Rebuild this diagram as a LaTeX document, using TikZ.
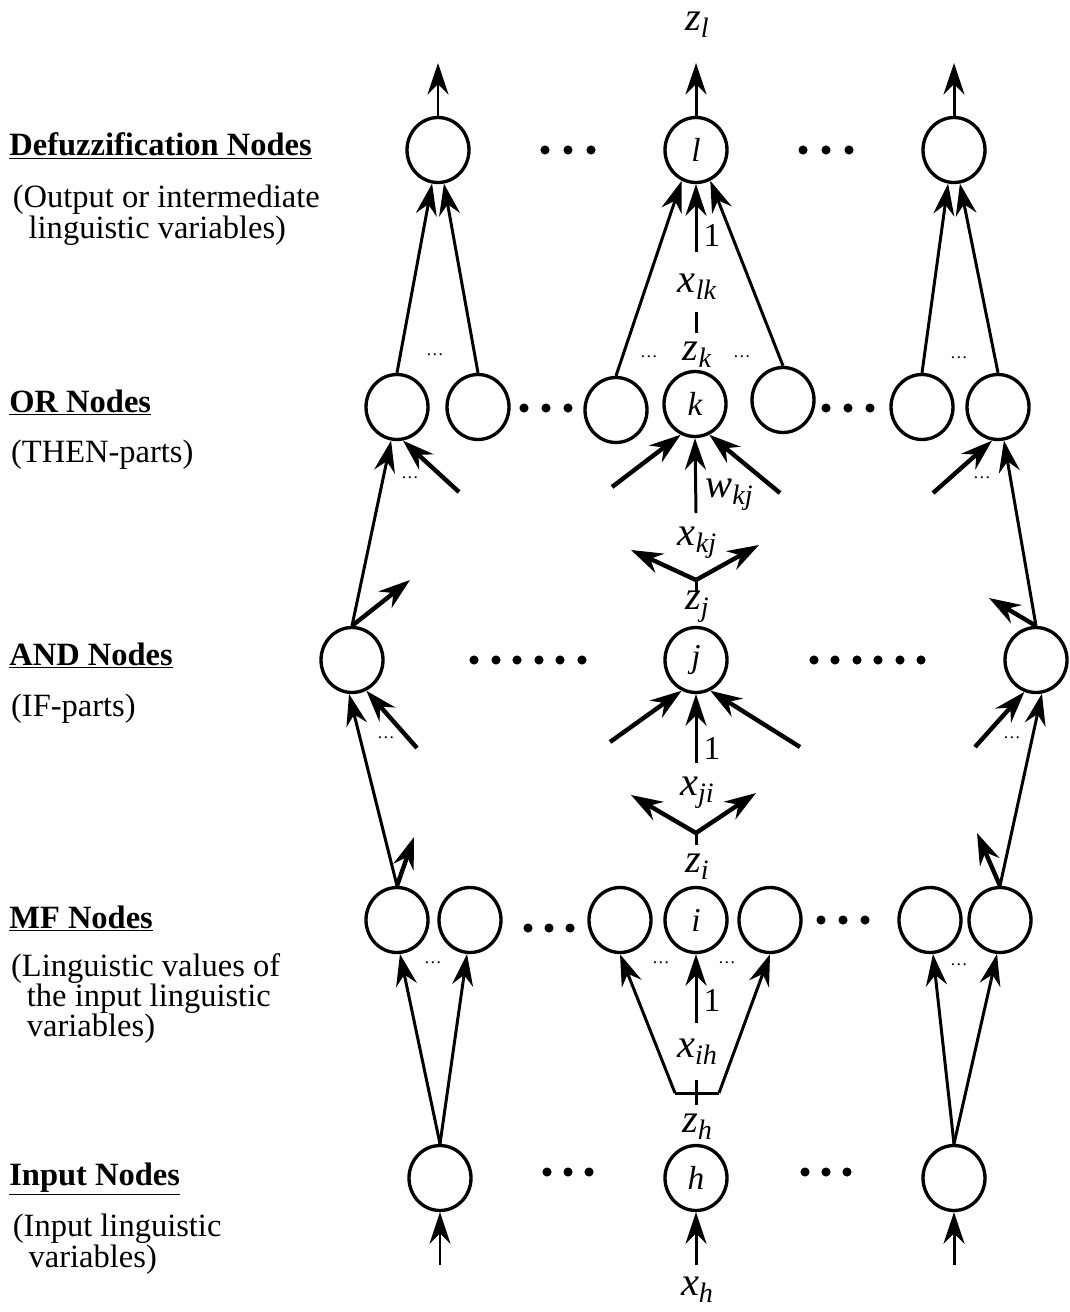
\documentclass[tikz,border=0pt]{standalone}
\usepackage{fontspec}
\setmainfont{Liberation Serif}
\usetikzlibrary{arrows.meta}
\usetikzlibrary{positioning}
\usetikzlibrary{shapes.geometric}

% A signal name with its (large, lowered) subscript
\newcommand{\sig}[2]{{\fontsize{23}{23}\selectfont\itshape #1}%
    \raisebox{-4pt}{\fontsize{16}{16}\selectfont\itshape #2}}

\tikzset{
    % Long, narrow filled heads
    >={Stealth[length=18pt,width=12pt,inset=6pt]},
%
    % One unit of the network
    unit/.style={
        draw, ellipse, line width=1.9pt, inner sep=0,
        minimum width=1.24cm, minimum height=1.3cm,
        font=\fontsize{19}{19}\selectfont\itshape},
%
    % Ordinary and heavier connections
    link/.style={->, line width=1.7pt},
    heavy link/.style={->, line width=2.5pt},
    stroke/.style={line width=1.7pt},
    % Small dots between two connections
    few/.style={inner sep=0, font=\fontsize{10}{10}\selectfont},
    % Signal names along the middle column
    signal/.style={inner sep=0},
    weight/.style={inner sep=0, font=\fontsize{19}{19}\selectfont},
    % Layer captions on the left
    layer/.style={inner sep=0, anchor=base west,
        font=\fontsize{18.5}{18.5}\selectfont\bfseries},
    layer note/.style={inner sep=0, align=left, anchor=north west,
        font={\fontsize{18.5}{17.2}\selectfont\lineskiplimit=-10pt}}}

\begin{document}
\begin{tikzpicture}[x=0.02cm, y=-0.02cm]
\useasboundingbox (0,0) rectangle (1069,1312);

% Captions of the five layers
\node[layer] (defuzz) at (9,155) {\underline{Defuzzification Nodes}};
\node[layer note, below=0.6cm of defuzz.base west, anchor=north west, xshift=2pt]
    (defuzz note) {(Output or intermediate\\\hspace*{9pt}linguistic variables)};

\node[layer] (or) at (9,412) {\underline{OR Nodes}};
\node[layer note, below=0.56cm of or.base west, anchor=north west, xshift=1pt]
    (or note) {(THEN-parts)};

\node[layer] (and) at (9,665) {\underline{AND Nodes}};
\node[layer note, below=0.58cm of and.base west, anchor=north west, xshift=1pt]
    (and note) {(IF-parts)};

\node[layer] (mf) at (9,928) {\underline{MF Nodes}};
\node[layer note, below=0.5cm of mf.base west, anchor=north west, xshift=1pt]
    (mf note) {(Linguistic values of\\\hspace*{9pt}the input linguistic\\\hspace*{9pt}variables)};

\node[layer] (input) at (9,1185) {\underline{Input Nodes}};
\node[layer note, below=0.58cm of input.base west, anchor=north west, xshift=2pt]
    (input note) {(Input linguistic\\\hspace*{9pt}variables)};

% Defuzzification layer
\node[unit] (d1) at (438,150) {};
\node[unit] (l) at (696,150) {l};
\node[unit] (d3) at (954,150) {};

% OR layer
\node[unit] (o1) at (397,407) {};
\node[unit] (o2) at (478,407) {};
\node[unit] (o3) at (616,410) {};
\node[unit] (k) at (695,404) {k};
\node[unit] (o5) at (783,400) {};
\node[unit] (o6) at (922,407) {};
\node[unit] (o7) at (998,407) {};

% AND layer
\node[unit] (a1) at (352,660) {};
\node[unit] (j) at (696,660) {j};
\node[unit] (a3) at (1036,660) {};

% MF layer
\node[unit] (m1) at (397,920) {};
\node[unit] (m2) at (470,920) {};
\node[unit] (m3) at (620,920) {};
\node[unit] (i) at (696,920) {i};
\node[unit] (m5) at (770,920) {};
\node[unit] (m6) at (930,920) {};
\node[unit] (m7) at (1000,920) {};

% Input layer
\node[unit] (n1) at (440,1178) {};
\node[unit] (h) at (696,1178) {h};
\node[unit] (n3) at (954,1178) {};

% Rows of dots for the units left out
\foreach \x in {545,568,591,803,826,849}
    \fill (\x,150) circle (2.6pt);
\foreach \x in {524,546,568,826,848,870}
    \fill (\x,408) circle (2.6pt);
\foreach \x in {474,496,517,539,560,582,814,835,857,878,900,921}
    \fill (\x,660) circle (2.6pt);
\foreach \x in {528,549,570}
    \fill (\x,928) circle (2.6pt);
\foreach \x in {821,843,865}
    \fill (\x,920) circle (2.6pt);
\foreach \x in {547,568,589,805,826,847}
    \fill (\x,1172) circle (2.6pt);

% Small dots between connections
\node[few] (few d1) at (435,355) {\dots};
\node[few] (few l1) at (649,357) {\dots};
\node[few] (few l2) at (742,357) {\dots};
\node[few] (few d3) at (959,358) {\dots};
\node[few] (few o1) at (410,478) {\dots};
\node[few] (few o7) at (982,478) {\dots};
\node[few] (few a1) at (386,738) {\dots};
\node[few] (few a3) at (1012,738) {\dots};
\node[few] (few m1) at (433,963) {\dots};
\node[few] (few i1) at (661,963) {\dots};
\node[few] (few i2) at (727,963) {\dots};
\node[few] (few m7) at (959,965) {\dots};

% Signal names along the middle column
\node[signal] (zl) at (697,25) {\sig{z}{l}};
\node[weight] (one l) at (712,235) {1};
\node[signal] (xlk) at (697,287) {\sig{x}{lk}};
\node[signal] (zk) at (697,355) {\sig{z}{k}};
\node[signal, anchor=west] (wkj) at (705,495) {\sig{w}{kj}};
\node[signal] (xkj) at (697,543) {\sig{x}{kj}};
\node[signal] (zj) at (697,607) {\sig{z}{j}};
\node[weight] (one j) at (712,748) {1};
\node[signal] (xji) at (697,793) {\sig{x}{ji}};
\node[signal] (zi) at (697,867) {\sig{z}{i}};
\node[weight] (one i) at (712,1000) {1};
\node[signal] (xih) at (697,1052) {\sig{x}{ih}};
\node[signal] (zh) at (697,1127) {\sig{z}{h}};
\node[signal] (xh) at (697,1290) {\sig{x}{h}};

% Free ends of connections
\path (438,63) coordinate (d1 out) (696,63) coordinate (l out)
    (954,63) coordinate (d3 out)
    (696,252) coordinate (l in)
    (696,312) coordinate (lk top) (696,333) coordinate (lk bottom)
    (459,492) coordinate (o1 in)
    (612,487) coordinate (k in a) (696,513) coordinate (k in b)
    (780,493) coordinate (k in c)
    (933,493) coordinate (o7 in)
    (696,580) coordinate (kj fork) (696,591) coordinate (kj stem)
    (631,550) coordinate (kj left) (759,545) coordinate (kj right)
    (410,580) coordinate (a1 out) (989,598) coordinate (a3 out)
    (417,748) coordinate (a1 in)
    (610,742) coordinate (j in a) (696,763) coordinate (j in b)
    (800,747) coordinate (j in c)
    (975,747) coordinate (a3 in)
    (696,833) coordinate (ji fork) (696,845) coordinate (ji stem)
    (631,795) coordinate (ji left) (756,793) coordinate (ji right)
    (414,837) coordinate (m1 out) (977,833) coordinate (m7 out)
    (696,1023) coordinate (i in)
    (675,1093) coordinate (ih left) (719,1093) coordinate (ih right)
    (696,1080) coordinate (ih top) (696,1105) coordinate (ih bottom)
    (440,1265) coordinate (n1 in) (696,1265) coordinate (h in)
    (954,1265) coordinate (n3 in);

% Outputs of the defuzzification units
\draw[link] (d1) -- (d1 out);
\draw[link] (l) -- (l out);
\draw[link] (d3) -- (d3 out);

% OR units into defuzzification units
\draw[link] (o1.north) -- (d1.-100);
\draw[link] (o2.north) -- (d1.-80);
\draw[link] (o3.north) -- (l.-115);
\draw[link] (l in) -- (l.south);
\draw[link] (o5.north) -- (l.-65);
\draw[stroke] (lk top) -- (lk bottom);
\draw[link] (o6.north) -- (d3.-100);
\draw[link] (o7.north) -- (d3.-80);

% AND units into OR units
\draw[link] (a1.north) -- (o1.-100);
\draw[heavy link] (o1 in) -- (o1.-80);
\draw[heavy link] (k in a) -- (k.-115);
\draw[link] (k in b) -- (k.south);
\draw[heavy link] (k in c) -- (k.-65);
\draw[heavy link] (o7 in) -- (o7.-100);
\draw[link] (a3.north) -- (o7.-80);
\draw[heavy link] (a1.north) -- (a1 out);
\draw[heavy link] (a3.north) -- (a3 out);
\draw[heavy link] (kj fork) -- (kj left);
\draw[heavy link] (kj fork) -- (kj right);
\draw[stroke] (kj fork) -- (kj stem);

% MF units into AND units
\draw[link] (m1.north) -- (a1.-95);
\draw[heavy link] (a1 in) -- (a1.-65);
\draw[heavy link] (j in a) -- (j.-115);
\draw[link] (j in b) -- (j.south);
\draw[heavy link] (j in c) -- (j.-65);
\draw[heavy link] (a3 in) -- (a3.-110);
\draw[link] (m7.north) -- (a3.-80);
\draw[heavy link] (m1.north) -- (m1 out);
\draw[heavy link] (m7.north) -- (m7 out);
\draw[heavy link] (ji fork) -- (ji left);
\draw[heavy link] (ji fork) -- (ji right);
\draw[stroke] (ji fork) -- (ji stem);

% Input units into MF units
\draw[link] (n1.north) -- (m1.-85);
\draw[link] (n1.north) -- (m2.-95);
\draw[link] (ih left) -- (m3.south);
\draw[link] (i in) -- (i.south);
\draw[link] (ih right) -- (m5.south);
\draw[stroke] (ih left) -- (ih right);
\draw[stroke] (ih top) -- (ih bottom);
\draw[link] (n3.north) -- (m6.-85);
\draw[link] (n3.north) -- (m7.-95);

% Inputs
\draw[link] (n1 in) -- (n1);
\draw[link] (h in) -- (h);
\draw[link] (n3 in) -- (n3);

\end{tikzpicture}
\end{document}
